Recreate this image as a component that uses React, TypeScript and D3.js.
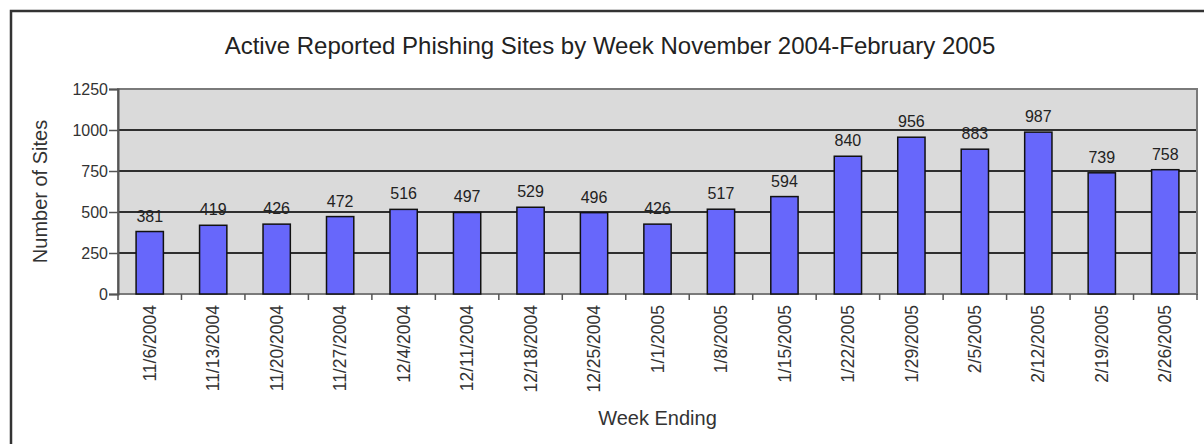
import React, { useEffect, useRef } from 'react';
import * as d3 from 'd3';

const weeks = [
  '11/6/2004', '11/13/2004', '11/20/2004', '11/27/2004', '12/4/2004', '12/11/2004',
  '12/18/2004', '12/25/2004', '1/1/2005', '1/8/2005', '1/15/2005', '1/22/2005',
  '1/29/2005', '2/5/2005', '2/12/2005', '2/19/2005', '2/26/2005',
];
const sites = [381, 419, 426, 472, 516, 497, 529, 496, 426, 517, 594, 840, 956, 883, 987, 739, 758];
const yTicks = [0, 250, 500, 750, 1000, 1250];

const title = 'Active Reported Phishing Sites by Week November 2004-February 2005';

export default function App() {
  const svgRef = useRef<SVGSVGElement>(null);

  useEffect(() => {
    if (!svgRef.current) return;
    const root = d3.select(svgRef.current);
    root.selectAll('*').remove();

    const W = 1204, H = 444;
    const plot = { left: 118, right: 1197, top: 89, bottom: 294 };
    const font = '"Liberation Sans", Arial, sans-serif';

    root.attr('width', W).attr('height', H).style('font-family', font);

    // outer frame
    root.append('rect')
      .attr('x', 11).attr('y', 11)
      .attr('width', W + 10).attr('height', H + 10)
      .attr('fill', '#fff')
      .attr('stroke', '#333')
      .attr('stroke-width', 2.5);

    const x = d3.scaleBand<string>()
      .domain(weeks)
      .range([plot.left, plot.right])
      .padding(0);

    const y = d3.scaleLinear()
      .domain([0, 1250])
      .range([plot.bottom, plot.top]);

    // plot background
    root.append('rect')
      .attr('x', plot.left).attr('y', plot.top)
      .attr('width', plot.right - plot.left).attr('height', plot.bottom - plot.top)
      .attr('fill', '#dadada');

    // gridlines
    root.append('g')
      .selectAll('line')
      .data(yTicks.filter(t => t > 0 && t < 1250))
      .enter()
      .append('line')
      .attr('x1', plot.left).attr('x2', plot.right)
      .attr('y1', d => y(d)).attr('y2', d => y(d))
      .attr('stroke', '#2e2e2e')
      .attr('stroke-width', 2);

    // plot border
    root.append('rect')
      .attr('x', plot.left).attr('y', plot.top)
      .attr('width', plot.right - plot.left).attr('height', plot.bottom - plot.top)
      .attr('fill', 'none')
      .attr('stroke', '#7a7a7a')
      .attr('stroke-width', 2);

    // bars
    const barW = x.bandwidth() * 0.43;
    root.append('g')
      .selectAll('rect')
      .data(weeks)
      .enter()
      .append('rect')
      .attr('x', d => (x(d) || 0) + (x.bandwidth() - barW) / 2)
      .attr('y', (d, i) => y(sites[i]))
      .attr('width', barW)
      .attr('height', (d, i) => y(0) - y(sites[i]))
      .attr('fill', '#6767fb')
      .attr('stroke', '#111')
      .attr('stroke-width', 1.5);

    // value labels
    root.append('g')
      .selectAll('text')
      .data(weeks)
      .enter()
      .append('text')
      .attr('x', d => (x(d) || 0) + x.bandwidth() / 2)
      .attr('y', (d, i) => y(sites[i]) - 10)
      .attr('text-anchor', 'middle')
      .attr('font-size', 16)
      .attr('fill', '#222')
      .text((d, i) => sites[i]);

    // y axis
    const yAxis = root.append('g')
      .attr('transform', `translate(${plot.left},0)`)
      .call(d3.axisLeft(y).tickValues(yTicks).tickSize(9).tickPadding(1).tickFormat(d3.format('d')));
    yAxis.select('.domain').attr('stroke', '#555').attr('stroke-width', 2);
    yAxis.selectAll('.tick line').attr('stroke', '#555').attr('stroke-width', 1.5);
    yAxis.selectAll('.tick text')
      .attr('font-size', 16)
      .attr('font-family', font)
      .attr('fill', '#333');

    // x ticks between categories
    const bounds = weeks.map(d => x(d) || 0).concat([plot.right]);
    root.append('g')
      .selectAll('line')
      .data(bounds)
      .enter()
      .append('line')
      .attr('x1', d => d).attr('x2', d => d)
      .attr('y1', plot.bottom).attr('y2', plot.bottom + 6)
      .attr('stroke', '#555')
      .attr('stroke-width', 1.5);

    // x labels
    root.append('g')
      .selectAll('text')
      .data(weeks)
      .enter()
      .append('text')
      .attr('transform', d => `translate(${(x(d) || 0) + x.bandwidth() / 2},${plot.bottom + 11}) rotate(-90)`)
      .attr('text-anchor', 'end')
      .attr('dy', '0.35em')
      .attr('font-size', 17.5)
      .attr('fill', '#333')
      .text(d => d);

    // title
    root.append('text')
      .attr('x', 610).attr('y', 54)
      .attr('text-anchor', 'middle')
      .attr('font-size', 24)
      .attr('fill', '#222')
      .text(title);

    // axis titles
    root.append('text')
      .attr('x', (plot.left + plot.right) / 2).attr('y', 425)
      .attr('text-anchor', 'middle')
      .attr('font-size', 20)
      .attr('fill', '#333')
      .text('Week Ending');

    root.append('text')
      .attr('transform', `translate(47,${(plot.top + plot.bottom) / 2}) rotate(-90)`)
      .attr('text-anchor', 'middle')
      .attr('font-size', 20)
      .attr('fill', '#333')
      .text('Number of Sites');
  }, []);

  return (
    <div style={{ position: 'absolute', left: 0, top: 0 }}>
      <svg ref={svgRef} style={{ display: 'block' }}></svg>
    </div>
  );
}
